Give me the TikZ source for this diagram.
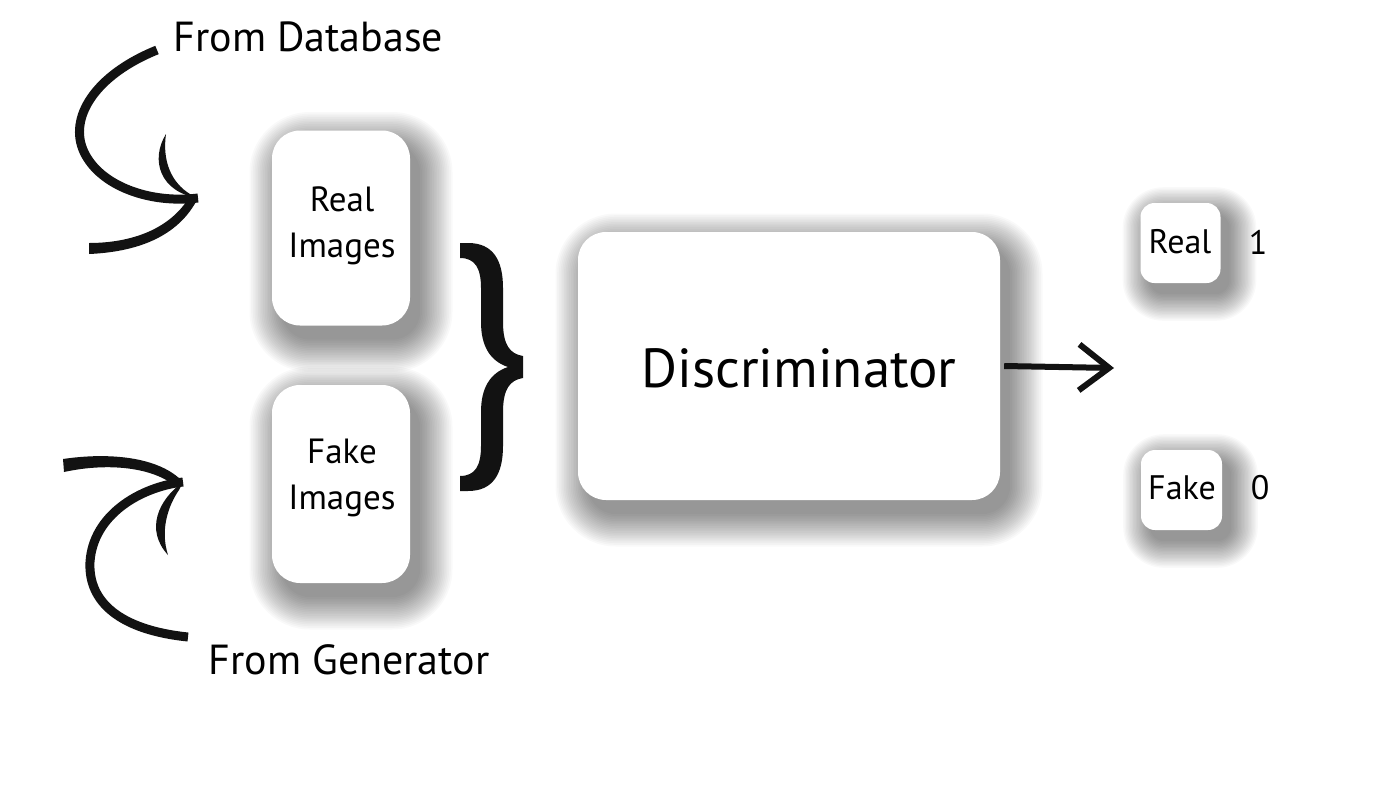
\documentclass[tikz,border=0pt]{standalone}
\usepackage{fontspec}
\setmainfont{PT Sans}
\usetikzlibrary{arrows.meta,calc,backgrounds}
\newcommand\softshadow[5]{% #1 node, #2 xshift, #3 yshift (down), #4 corner radius, #5 step
  \foreach \i in {0,...,19}{
    \pgfmathsetmacro\rr{\i*#5}
    \pgfmathsetmacro\rc{#4+\rr}
    \fill[black, opacity=0.022, rounded corners=\rc pt]
      ($(#1.north west)+(#2-\rr, #3-\rr)$) rectangle ($(#1.south east)+(#2+\rr, #3+\rr)$);
  }}
\tikzset{
  card/.style={fill=white, rounded corners=28pt, inner sep=0pt, align=center},
  smallcard/.style={fill=white, rounded corners=14pt, inner sep=0pt, align=center},
  ink/.style={fill=black!93, draw=none},
  stroke/.style={draw=black!93, line width=9pt, line cap=butt},
  outarrow/.style={draw=black!93, line width=6pt, -{Straight Barb[length=30pt,width=46pt]}},
  boxtext/.style={font=\fontsize{35}{46}\selectfont, align=center},
  outtext/.style={font=\fontsize{34}{36}\selectfont},
  fromtext/.style={font=\fontsize{42}{46}\selectfont, anchor=west},
}
\begin{document}
\begin{tikzpicture}[x=1pt,y=-1pt]
\useasboundingbox (0,0) rectangle (1400,809);

% cards
\node[card, minimum width=138pt, minimum height=195pt] (realimg) at (341,228) {};
\node[boxtext] (realimgt) at (342,226) {Real\\Images};
\node[card, minimum width=138pt, minimum height=198pt] (fakeimg) at (341,484) {};
\node[boxtext] (fakeimgt) at (342,478) {Fake\\Images};
\node[card, minimum width=422pt, minimum height=268pt] (disc) at (789,366) {};
\node[font=\fontsize{55}{60}\selectfont] (disct) at (799,368) {Discriminator};
\node[smallcard, minimum width=80pt, minimum height=80pt] (realout) at (1180.5,243) {};
\node[outtext] (realoutt) at (1180,242) {Real};
\node[smallcard, minimum width=81pt, minimum height=80pt] (fakeout) at (1181.5,490) {};
\node[outtext] (fakeoutt) at (1182,488) {Fake};
\node[outtext] (one) at (1258,242) {1};
\node[outtext] (zero) at (1260,488) {0};

\begin{scope}[on background layer]
  \fill[white] (0,0) rectangle (1400,809);
  \softshadow{realimg}{10}{14}{28}{1.7}
  \softshadow{fakeimg}{10}{14}{28}{1.7}
  \softshadow{disc}{10}{14}{28}{1.7}
  \softshadow{realout}{9}{11}{14}{1.4}
  \softshadow{fakeout}{9}{11}{14}{1.4}
\end{scope}

% labels
\node[fromtext] (fromdb) at (170,37) {From Database};
\node[fromtext] (fromgen) at (205,660) {From Generator};

% brace
\path[ink] (460,243) -- (468,243) .. controls (493,243) and (503,260) .. (503,288)
  -- (503,322) .. controls (503,345) and (510,354) .. (523,356) -- (523,378)
  .. controls (510,380) and (503,389) .. (503,412) -- (503,446)
  .. controls (503,474) and (493,491) .. (468,491) -- (460,491) -- (460,476)
  .. controls (475,476) and (481,466) .. (481,446) -- (481,412)
  .. controls (481,388) and (490,373) .. (508,367)
  .. controls (490,361) and (481,346) .. (481,322) -- (481,288)
  .. controls (481,268) and (475,258) .. (460,258) -- cycle;

% output arrow
\coordinate (outtip) at (1114,368);
\draw[outarrow] (disc.east) ++(4,0) -- (outtip);

% top curved arrow (from database)
\coordinate (dbtip) at (198,198);
\draw[stroke] (157,50) .. controls (95,75) and (68,118) .. (84,152) .. controls (100,186) and (150,204) .. (dbtip);
\path[ink] (dbtip) .. controls (178,238) and (135,252) .. (89,254)
  -- (89,243) .. controls (130,243) and (170,230) .. (190,196) -- cycle;
\path[ink] (166,134) .. controls (150,160) and (160,192) .. (dbtip)
  -- (190,194) .. controls (172,183) and (162,162) .. (166,134) -- cycle;

% bottom curved arrow (from generator)
\coordinate (gentip) at (183,482);
\draw[stroke] (188,637) .. controls (120,630) and (88,602) .. (90,562) .. controls (93,515) and (140,487) .. (gentip);
\path[ink] (gentip) .. controls (160,457) and (110,452) .. (63,459)
  -- (64,472) .. controls (110,462) and (155,468) .. (176,487) -- cycle;
\path[ink] (gentip) .. controls (158,500) and (145,530) .. (168,555)
  .. controls (160,530) and (168,506) .. (179,490) -- cycle;
\end{tikzpicture}
\end{document}
